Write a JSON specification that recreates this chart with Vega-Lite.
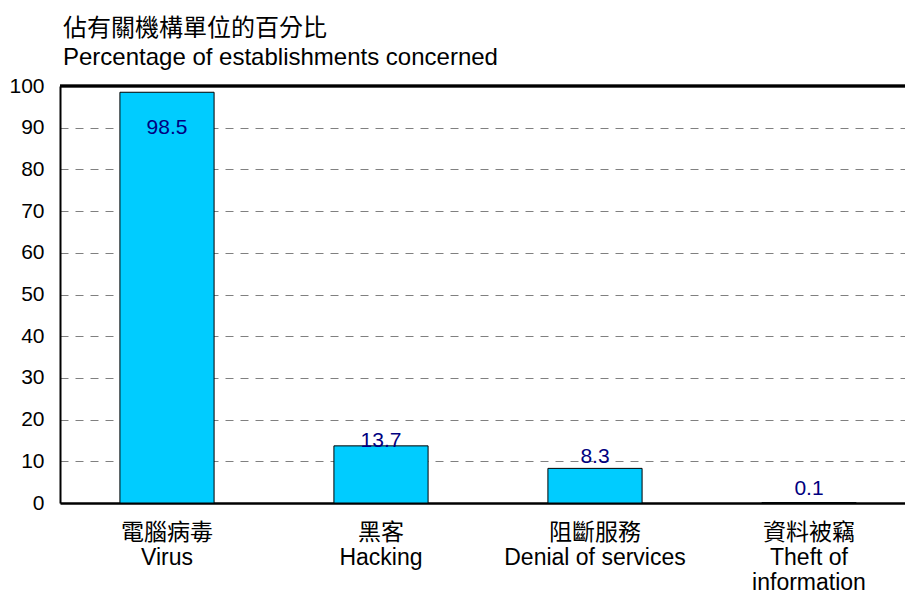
{
  "$schema": "https://vega.github.io/schema/vega-lite/v6.json",
  "width": 845,
  "height": 417,
  "autosize": {"type": "none"},
  "padding": {"left": 60, "top": 86, "right": 0, "bottom": 91},
  "background": "white",
  "config": {
    "view": {"stroke": null},
    "font": "Liberation Sans, 'Noto Sans CJK TC'"
  },
  "title": {
    "text": ["佔有關機構單位的百分比", "Percentage of establishments concerned"],
    "anchor": "start",
    "frame": "group",
    "fontSize": 24,
    "fontWeight": "normal",
    "font": "Liberation Sans, 'Noto Sans CJK TC'",
    "lineHeight": 29,
    "offset": 5,
    "dx": 3,
    "color": "black"
  },
  "data": {
    "values": [
      {"category": "電腦病毒|Virus", "value": 98.5},
      {"category": "黑客|Hacking", "value": 13.7},
      {"category": "阻斷服務|Denial of services", "value": 8.3},
      {"category": "資料被竊|Theft of|information", "value": 0.1}
    ]
  },
  "layer": [
    {
      "mark": {"type": "bar", "color": "#00CCFF", "stroke": "black", "strokeWidth": 1},
      "encoding": {
        "x": {
          "field": "category",
          "type": "nominal",
          "sort": null,
          "scale": {"range": [0, 856], "paddingInner": 0.56, "paddingOuter": 0.28},
          "axis": {
            "title": null,
            "labelAngle": 0,
            "ticks": false,
            "domainColor": "black",
            "domainWidth": 2.5,
            "labelFontSize": 23,
            "labelLineHeight": 25,
            "labelPadding": 18,
            "labelLimit": 0,
            "labelColor": "black",
            "labelBaseline": "top",
            "labelExpr": "split(datum.label, '|')"
          }
        },
        "y": {
          "field": "value",
          "type": "quantitative",
          "scale": {"domain": [0, 100], "nice": false},
          "axis": {
            "title": null,
            "values": [0, 10, 20, 30, 40, 50, 60, 70, 80, 90, 100],
            "grid": true,
            "gridDash": [8, 7],
            "gridColor": "#808080",
            "gridWidth": 1,
            "gridOpacity": 1,
            "domainColor": "black",
            "domainWidth": 2,
            "ticks": false,
            "labelFontSize": 21,
            "labelPadding": 16,
            "labelColor": "black"
          }
        }
      }
    },
    {
      "mark": {"type": "rule", "stroke": "black", "strokeWidth": 2.5},
      "encoding": {"y": {"datum": 100, "type": "quantitative"}}
    },
    {
      "transform": [{"filter": "datum.category === '電腦病毒|Virus'"}],
      "mark": {"type": "text", "fontSize": 21, "color": "#000080", "baseline": "middle", "dy": 36},
      "encoding": {
        "x": {"field": "category", "type": "nominal", "sort": null},
        "y": {"field": "value", "type": "quantitative"},
        "text": {"field": "value", "type": "quantitative", "format": ".1f"}
      }
    },
    {
      "transform": [{"filter": "datum.category === '黑客|Hacking'"}],
      "mark": {"type": "text", "fontSize": 21, "color": "#000080", "baseline": "middle", "dy": -5},
      "encoding": {
        "x": {"field": "category", "type": "nominal", "sort": null},
        "y": {"field": "value", "type": "quantitative"},
        "text": {"field": "value", "type": "quantitative", "format": ".1f"}
      }
    },
    {
      "transform": [{"filter": "datum.category === '阻斷服務|Denial of services'"}],
      "mark": {"type": "text", "fontSize": 21, "color": "#000080", "baseline": "middle", "dy": -11},
      "encoding": {
        "x": {"field": "category", "type": "nominal", "sort": null},
        "y": {"field": "value", "type": "quantitative"},
        "text": {"field": "value", "type": "quantitative", "format": ".1f"}
      }
    },
    {
      "transform": [{"filter": "datum.category === '資料被竊|Theft of|information'"}],
      "mark": {"type": "text", "fontSize": 21, "color": "#000080", "baseline": "middle", "dy": -14},
      "encoding": {
        "x": {"field": "category", "type": "nominal", "sort": null},
        "y": {"field": "value", "type": "quantitative"},
        "text": {"field": "value", "type": "quantitative", "format": ".1f"}
      }
    }
  ]
}
